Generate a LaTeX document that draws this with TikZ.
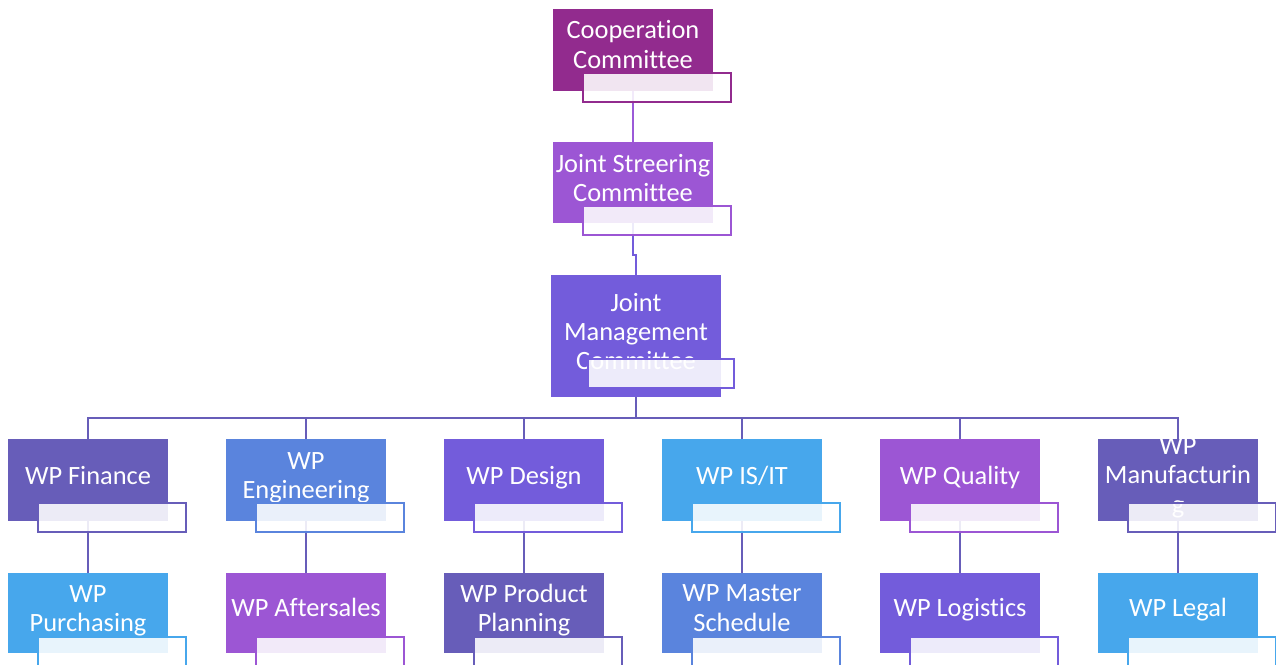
\documentclass[tikz,border=0pt]{standalone}
\usepackage{fontspec}
\setmainfont[Ligatures=NoCommon]{Carlito}
\usetikzlibrary{calc}
\definecolor{cCoop}{HTML}{922B8E}
\definecolor{cJSC}{HTML}{9C56D4}
\definecolor{cJMC}{HTML}{735CDB}
\definecolor{cSlate}{HTML}{675DB9}
\definecolor{cBlue}{HTML}{5A84DD}
\definecolor{cSky}{HTML}{47A7EC}
\definecolor{cLine1}{HTML}{9B5AD8}
\tikzset{
  mainbox/.style={rectangle, inner sep=0pt, outer sep=0pt, anchor=north},
  boxtext/.style={text=white, align=center, font=\fontsize{26.4}{29.3}\selectfont, inner sep=0pt},
  ovl/.style={rectangle, inner sep=0pt, outer sep=0pt, fill=white, fill opacity=0.88, line width=2.2pt, minimum width=148pt, minimum height=29pt, anchor=north west},
  conn/.style={line width=2.8pt},
}
% name, cx, top, width, height, colour, text ; optional: text offset
\newcommand\orgbox[7][-3]{%
  \node[mainbox, fill=#6, minimum width=#4, minimum height=#5] (#2) at (#3) {};
  \node[boxtext] (#2t) at ($(#2.center)+(0,#1)$) {#7};
}
\begin{document}
\begin{tikzpicture}[x=1pt,y=-1pt]
\useasboundingbox (0,0) rectangle (1276,664);
% top chain
\orgbox[-5.5]{n1}{633,9}{160pt}{82pt}{cCoop}{Cooperation\\Committee}
\orgbox[-4.5]{n2}{633,142}{160pt}{81pt}{cJSC}{Joint Streering\\Committee}
\orgbox[-4.5]{n3}{636,275}{170pt}{122pt}{cJMC}{Joint\\Management\\Committee}
% level 2
\orgbox[-4]{a1}{88,439}{160pt}{82pt}{cSlate}{WP Finance}
\orgbox[-2]{a2}{306,439}{160pt}{82pt}{cBlue}{WP\\Engineering}
\orgbox[-2]{a3}{524,439}{160pt}{82pt}{cJMC}{WP Design}
\orgbox[-4]{a4}{742,439}{160pt}{82pt}{cSky}{WP IS/IT}
\orgbox[-3]{a5}{960,439}{160pt}{82pt}{cJSC}{WP Quality}
\orgbox[-2.5]{a6}{1178,439}{160pt}{82pt}{cSlate}{WP\\Manufacturin\\g}
% level 3
\orgbox[-2]{b1}{88,573}{160pt}{80pt}{cSky}{WP\\Purchasing}
\orgbox[-6]{b2}{306,573}{160pt}{80pt}{cJSC}{WP Aftersales}
\orgbox[-3]{b3}{524,573}{160pt}{80pt}{cSlate}{WP Product\\Planning}
\orgbox[-5]{b4}{742,573}{160pt}{80pt}{cBlue}{WP Master\\Schedule}
\orgbox[-3]{b5}{960,573}{160pt}{80pt}{cJMC}{WP Logistics}
\orgbox[-3]{b6}{1178,573}{160pt}{80pt}{cSky}{WP Legal}
% connectors
\draw[conn, cLine1] (n1.south) -- (n2.north);
\draw[conn, cJMC] (n2.south) -- ++(0,32) -| (n3.north);
\coordinate (bus) at (636,418);
\draw[conn, cSlate] (n3.south) -- (bus);
\foreach \i in {1,...,6}{
  \draw[conn, cSlate] (a\i.north) |- (bus);
  \draw[conn, cSlate] (a\i.south) -- (b\i.north);
}
% overlays
\node[ovl, draw=cCoop] (n1o) at (583,73) {};
\node[ovl, draw=cJSC] (n2o) at (583,206) {};
\node[ovl, draw=cJMC, minimum width=146pt] (n3o) at (588,359) {};
\node[ovl, draw=cSlate] (a1o) at (38,503) {};
\node[ovl, draw=cBlue] (a2o) at (256,503) {};
\node[ovl, draw=cJMC] (a3o) at (474,503) {};
\node[ovl, draw=cSky] (a4o) at (692,503) {};
\node[ovl, draw=cJSC] (a5o) at (910,503) {};
\node[ovl, draw=cSlate] (a6o) at (1128,503) {};
\node[ovl, draw=cSky] (b1o) at (38,637) {};
\node[ovl, draw=cJSC] (b2o) at (256,637) {};
\node[ovl, draw=cSlate] (b3o) at (474,637) {};
\node[ovl, draw=cBlue] (b4o) at (692,637) {};
\node[ovl, draw=cJMC] (b5o) at (910,637) {};
\node[ovl, draw=cSky] (b6o) at (1128,637) {};
\end{tikzpicture}
\end{document}
